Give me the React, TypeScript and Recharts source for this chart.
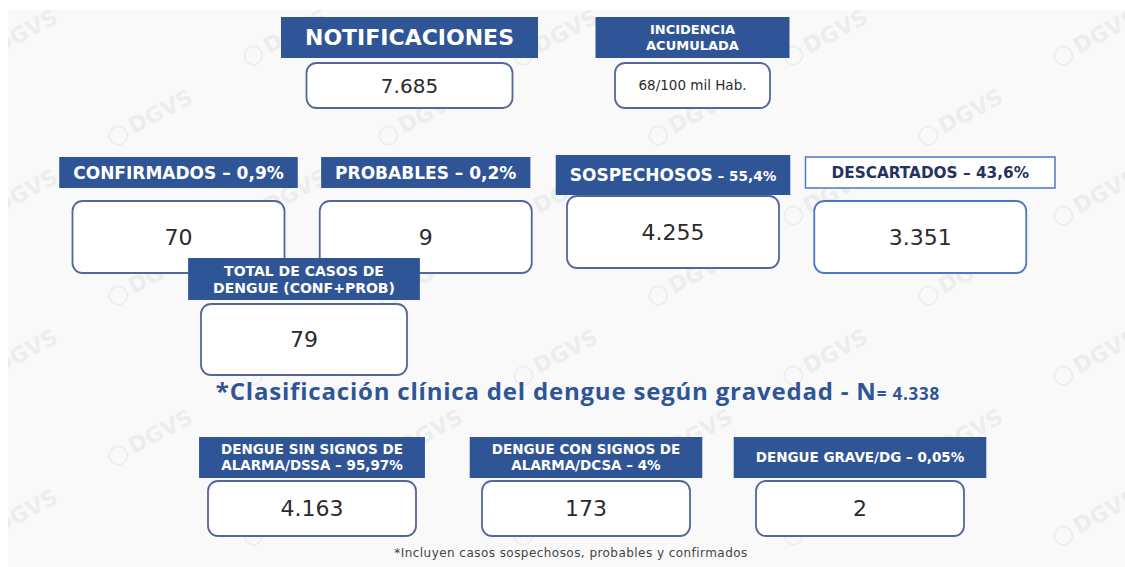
import React from 'react';
import { BarChart, Bar, XAxis, YAxis } from 'recharts';

// ─── Data ──────────────────────────────────────────────────────────────────────
const topLabels = ['NOTIFICACIONES', 'INCIDENCIA\nACUMULADA'];
const topValues = [7685, 68];
const topUnits = ['', '/100 mil Hab.'];

const classLabels = ['CONFIRMADOS', 'PROBABLES', 'SOSPECHOSOS', 'DESCARTADOS'];
const classShares = ['0,9%', '0,2%', '55,4%', '43,6%'];
const classValues = [70, 9, 4255, 3351];

const totalLabels = ['TOTAL DE CASOS DE\nDENGUE (CONF+PROB)'];
const totalValues = [79];

const severityLabels = ['DENGUE SIN SIGNOS DE\nALARMA/DSSA', 'DENGUE CON SIGNOS DE\nALARMA/DCSA', 'DENGUE GRAVE/DG'];
const severityShares = ['95,97%', '4%', '0,05%'];
const severityValues = [4163, 173, 2];
const severityTotal = 4338;

const titleText = '*Clasificación clínica del dengue según gravedad - ';
const footnote = '*Incluyen casos sospechosos, probables y confirmados';

// ─── Styles ────────────────────────────────────────────────────────────────────
const NAVY = '#2f5597';
const BOX_STROKE = '#55669a';
const VALUE_COLOR = '#2b2b2b';
const HEADER_FONT = '"DejaVu Sans"';
const EMPHASIS = 'SOSPECHOSOS';
const OUTLINED = 'DESCARTADOS';
const BLEED = 40; // extra room round each row so wide headers are not clipped

const fmt = (n: number) => String(n).replace(/\B(?=(\d{3})+(?!\d))/g, '.');

const build = (labels: string[], values: number[], shares?: string[], units?: string[]) =>
  labels.map((name, i) => ({ name, value: values[i], share: shares ? shares[i] : '', unit: units ? units[i] : '' }));

let ctx: CanvasRenderingContext2D | null = null;
function textWidth(text: string, font: string) {
  if (!ctx) ctx = document.createElement('canvas').getContext('2d');
  if (!ctx) return text.length * 10;
  ctx.font = font;
  return ctx.measureText(text).width;
}

type RowStyle = {
  headerH: number;
  headerFont: number;
  singleFont?: number;
  headerPad: number;
  minHeaderW?: number;
  lineGap: number;
  gap: number;
  boxW: number | ((hw: number) => number);
  boxH: number;
  valueFont: number;
  unitFont?: number;
};

const Y0 = 5;

const makeShape = (st: RowStyle) => (props: any) => {
  const { x, width, payload } = props;
  const cx = x + width / 2;
  const emph = payload.name === EMPHASIS;
  const outlined = payload.name === OUTLINED;
  const lines: string[] = payload.name.split('\n');
  const baseFs = lines.length === 1 && st.singleFont ? st.singleFont : st.headerFont;
  const fs = outlined ? baseFs * 0.9 : baseFs;
  const shareFs = emph ? fs * 0.8 : fs;
  const font = `bold ${fs}px ${HEADER_FONT}`;
  const shareFont = `bold ${shareFs}px ${HEADER_FONT}`;
  const suffix = payload.share ? ` – ${payload.share}` : '';

  const lineW = lines.map((l, i) =>
    textWidth(l, font) + (i === lines.length - 1 && suffix ? textWidth(suffix, shareFont) : 0));
  const pad = st.headerPad + (outlined ? 12 : 0);
  const hw = Math.max(st.minHeaderW ?? 0, Math.max(...lineW) + pad * 2);
  const hx = cx - hw / 2 + (outlined ? 10 : 0);
  const hy = Y0 + (emph ? -2 : 0);
  const hh = st.headerH + (emph ? 9 : 0);
  const firstCenter = hy + hh / 2 - ((lines.length - 1) * st.lineGap) / 2;

  const bw = typeof st.boxW === 'function' ? st.boxW(hw) : st.boxW;
  const by = Y0 + st.headerH + st.gap + (emph ? -5 : 0);
  const valueFs = payload.unit ? st.unitFont ?? st.valueFont : st.valueFont;

  return (
    <g>
      <rect
        x={hx} y={hy} width={hw} height={hh}
        fill={outlined ? '#ffffff' : NAVY}
        stroke={outlined ? '#4a78c8' : NAVY} strokeWidth={outlined ? 1.5 : 0}
      />
      {lines.map((l, i) => (
        <text
          key={i} x={hx + hw / 2} y={firstCenter + i * st.lineGap + fs * 0.36}
          textAnchor="middle" fontFamily={HEADER_FONT} fontWeight="bold" fontSize={fs}
          fill={outlined ? '#24325f' : '#ffffff'}
        >
          {l}
          {i === lines.length - 1 && suffix ? <tspan fontSize={shareFs}>{suffix}</tspan> : null}
        </text>
      ))}
      <rect
        x={cx - bw / 2} y={by} width={bw} height={st.boxH} rx={10} ry={10}
        fill="#ffffff" stroke={outlined ? '#4a78c8' : BOX_STROKE} strokeWidth={1.8}
      />
      <text
        x={cx} y={by + st.boxH / 2 + valueFs * 0.36} textAnchor="middle"
        fontFamily={HEADER_FONT} fontSize={valueFs} fill={VALUE_COLOR}
      >
        {fmt(payload.value) + payload.unit}
      </text>
    </g>
  );
};

function BoxRow({ data, left, top, width, st }: { data: any[]; left: number; top: number; width: number; st: RowStyle }) {
  const height = Y0 + st.headerH + st.gap + st.boxH + 6;
  const w = width + BLEED * 2;
  return (
    <div style={{ position: 'absolute', left: left - BLEED, top: top - Y0, width: w, height }}>
      <BarChart width={w} height={height} data={data} margin={{ top: 0, right: BLEED, bottom: 0, left: BLEED }} barCategoryGap={0}>
        <XAxis dataKey="name" hide />
        <YAxis hide domain={[0, 'dataMax']} />
        <Bar dataKey="value" isAnimationActive={false} shape={makeShape(st)} />
      </BarChart>
    </div>
  );
}

const TOP_STYLE: RowStyle = {
  headerH: 41, headerFont: 13, singleFont: 22, headerPad: 24, minHeaderW: 194, lineGap: 16,
  gap: 5, boxW: (hw) => Math.round(hw * 0.8), boxH: 45, valueFont: 20, unitFont: 13.5,
};
const CLASS_STYLE: RowStyle = {
  headerH: 31, headerFont: 17, headerPad: 14, lineGap: 18, gap: 13, boxW: 212, boxH: 72, valueFont: 22,
};
const TOTAL_STYLE: RowStyle = {
  headerH: 42, headerFont: 14, headerPad: 25, lineGap: 17, gap: 4, boxW: 206, boxH: 71, valueFont: 22,
};
const SEVERITY_STYLE: RowStyle = {
  headerH: 41, headerFont: 13.5, headerPad: 22, lineGap: 16, gap: 3, boxW: 208, boxH: 55, valueFont: 22,
};

function Background() {
  return (
    <svg width={1125} height={567} style={{ position: 'absolute', left: 0, top: 0 }}>
      <defs>
        <pattern id="wm" width={270} height={160} patternUnits="userSpaceOnUse" x={-70} y={-10}>
          {[[70, 50], [205, 130]].map(([px, py], i) => (
            <g key={i} transform={`translate(${px},${py}) rotate(-28)`} fill="none" stroke="#ececec">
              <circle cx={-22} cy={6} r={9} strokeWidth={1.5} />
              <text x={-8} y={12} fontFamily={HEADER_FONT} fontWeight="bold" fontSize={22} fill="#ededed" stroke="none">DGVS</text>
            </g>
          ))}
        </pattern>
      </defs>
      <rect x={0} y={0} width={1125} height={567} fill="#ffffff" />
      <rect x={8} y={10} width={1117} height={557} fill="#f9f9f9" />
      <rect x={8} y={10} width={1117} height={557} fill="url(#wm)" />
      <text x={578} y={400} textAnchor="middle" fontFamily='"Open Sans"' fontWeight="bold" fontSize={24} letterSpacing={0.8} fill={NAVY}>
        {titleText}N<tspan fontSize={17}>{'= ' + fmt(severityTotal)}</tspan>
      </text>
      <text x={571} y={557} textAnchor="middle" fontFamily={HEADER_FONT} fontSize={12} letterSpacing={0.45} fill="#444444">
        {footnote}
      </text>
    </svg>
  );
}

export default function App() {
  return (
    <div style={{ position: 'absolute', left: 0, top: 0, width: 1125, height: 567, overflow: 'hidden', background: '#ffffff' }}>
      <Background />
      <BoxRow data={build(topLabels, topValues, undefined, topUnits)} left={268} top={17} width={566} st={TOP_STYLE} />
      <BoxRow data={build(classLabels, classValues, classShares)} left={55} top={157} width={989} st={CLASS_STYLE} />
      <BoxRow data={build(totalLabels, totalValues)} left={174} top={258} width={260} st={TOTAL_STYLE} />
      <BoxRow data={build(severityLabels, severityValues, severityShares)} left={175} top={437} width={822} st={SEVERITY_STYLE} />
    </div>
  );
}
